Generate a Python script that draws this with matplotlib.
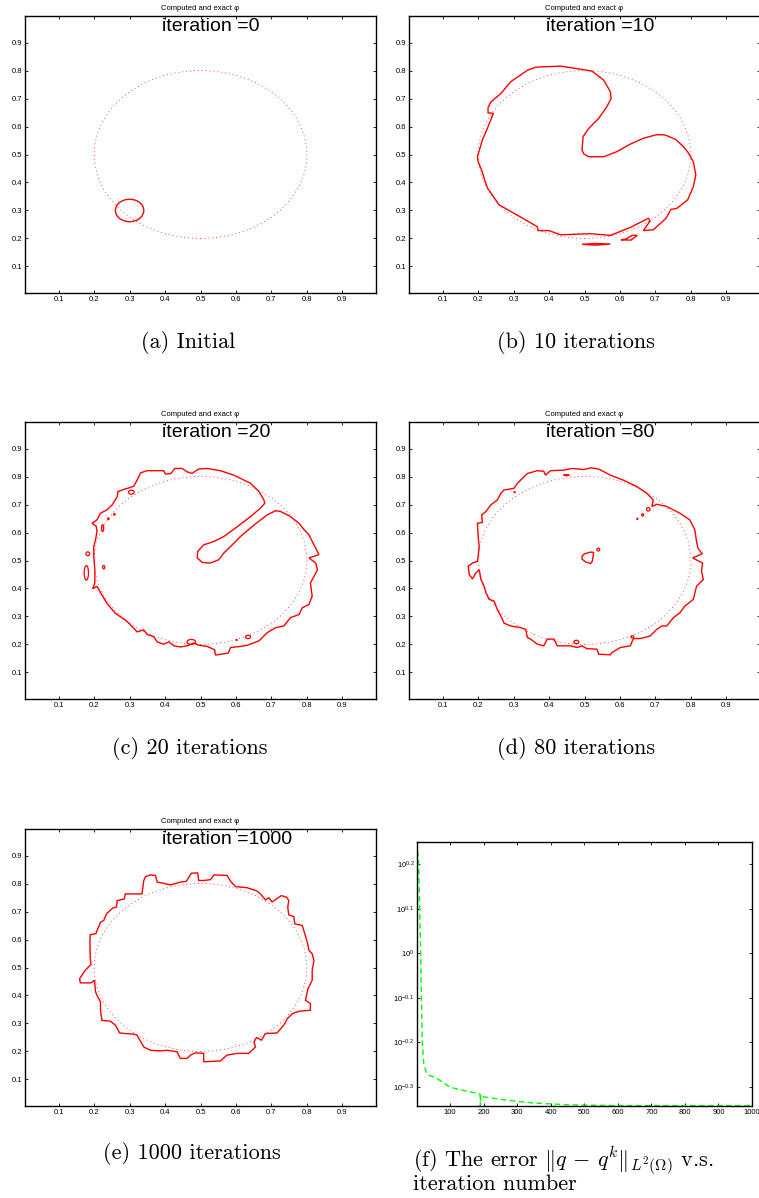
import numpy as np
import matplotlib
matplotlib.use('Agg')
import matplotlib.pyplot as plt
from matplotlib.patches import Circle, Ellipse, Polygon
from matplotlib.ticker import FixedLocator, FixedFormatter, NullLocator

plt.rcParams['font.family'] = ['Liberation Sans', 'DejaVu Sans']
plt.rcParams['mathtext.fontset'] = 'custom'
plt.rcParams['mathtext.rm'] = 'Liberation Sans'
plt.rcParams['mathtext.it'] = 'Liberation Sans:italic'
plt.rcParams['mathtext.bf'] = 'Liberation Sans:bold'

# ---------------- data ----------------
panel_iterations = [0, 10, 20, 80, 1000]
panel_captions = ["(a) Initial", "(b) 10 iterations", "(c) 20 iterations",
                  "(d) 80 iterations", "(e) 1000 iterations"]
axis_ticks = [0.1, 0.2, 0.3, 0.4, 0.5, 0.6, 0.7, 0.8, 0.9]
axis_tick_labels = ["0.1", "0.2", "0.3", "0.4", "0.5", "0.6", "0.7", "0.8", "0.9"]

exact_center = (0.5, 0.5)
exact_radius = 0.3
initial_center = (0.3, 0.3)
initial_radius = 0.04

b_outer = [(0.228, 0.668), (0.236, 0.688), (0.264, 0.718), (0.292, 0.760), (0.339, 0.801),
           (0.362, 0.812), (0.432, 0.816), (0.488, 0.805), (0.521, 0.798), (0.554, 0.766),
           (0.573, 0.724), (0.575, 0.700), (0.563, 0.671), (0.540, 0.629), (0.512, 0.593),
           (0.496, 0.564), (0.493, 0.516), (0.498, 0.502), (0.512, 0.492), (0.554, 0.492),
           (0.591, 0.510), (0.629, 0.537), (0.666, 0.558), (0.704, 0.571), (0.727, 0.570),
           (0.757, 0.554), (0.779, 0.528), (0.793, 0.506), (0.807, 0.474), (0.814, 0.427),
           (0.807, 0.385), (0.791, 0.338), (0.760, 0.307), (0.744, 0.304), (0.730, 0.272),
           (0.694, 0.231), (0.666, 0.228), (0.685, 0.262), (0.680, 0.272), (0.629, 0.239),
           (0.573, 0.211), (0.517, 0.217), (0.432, 0.213), (0.400, 0.228), (0.369, 0.228),
           (0.367, 0.242), (0.301, 0.290), (0.259, 0.320), (0.226, 0.381), (0.217, 0.415),
           (0.210, 0.444), (0.200, 0.474), (0.198, 0.492), (0.212, 0.552), (0.226, 0.593),
           (0.243, 0.647), (0.228, 0.649)]
b_lens = [(0.493, 0.179), (0.530, 0.182), (0.573, 0.180), (0.530, 0.176)]
b_quad = [(0.603, 0.195), (0.631, 0.194), (0.649, 0.211), (0.634, 0.211), (0.617, 0.198)]

c_outer = [(0.321, 0.787), (0.331, 0.813), (0.349, 0.821), (0.396, 0.821), (0.401, 0.809),
           (0.417, 0.811), (0.427, 0.829), (0.448, 0.829), (0.462, 0.817), (0.476, 0.811),
           (0.495, 0.827), (0.519, 0.829), (0.556, 0.821), (0.594, 0.805), (0.641, 0.776),
           (0.665, 0.746), (0.679, 0.716), (0.681, 0.704), (0.669, 0.687), (0.641, 0.657),
           (0.604, 0.621), (0.566, 0.586), (0.538, 0.568), (0.509, 0.556), (0.492, 0.532),
           (0.491, 0.509), (0.505, 0.493), (0.528, 0.491), (0.552, 0.503), (0.566, 0.527),
           (0.580, 0.544), (0.613, 0.586), (0.651, 0.627), (0.688, 0.663), (0.712, 0.678),
           (0.726, 0.675), (0.754, 0.657), (0.778, 0.633), (0.792, 0.610), (0.806, 0.592),
           (0.815, 0.568), (0.825, 0.544), (0.834, 0.521), (0.806, 0.509), (0.825, 0.491),
           (0.830, 0.467), (0.820, 0.443), (0.810, 0.420), (0.815, 0.373), (0.806, 0.343),
           (0.787, 0.331), (0.778, 0.307), (0.754, 0.296), (0.735, 0.266), (0.712, 0.260),
           (0.688, 0.242), (0.665, 0.213), (0.632, 0.197), (0.613, 0.193), (0.585, 0.189),
           (0.578, 0.169), (0.542, 0.162), (0.540, 0.181), (0.519, 0.193), (0.495, 0.197),
           (0.481, 0.205), (0.462, 0.195), (0.443, 0.191), (0.425, 0.195), (0.411, 0.209),
           (0.396, 0.201), (0.378, 0.209), (0.368, 0.228), (0.349, 0.236), (0.340, 0.252),
           (0.321, 0.245), (0.316, 0.252), (0.298, 0.276), (0.288, 0.287), (0.260, 0.311),
           (0.236, 0.347), (0.218, 0.385), (0.208, 0.408), (0.196, 0.399), (0.202, 0.420),
           (0.202, 0.467), (0.199, 0.515), (0.199, 0.550), (0.204, 0.574), (0.208, 0.604),
           (0.206, 0.622), (0.194, 0.633), (0.208, 0.645), (0.218, 0.669), (0.236, 0.681),
           (0.251, 0.699), (0.265, 0.728), (0.267, 0.746), (0.283, 0.754), (0.302, 0.761),
           (0.312, 0.766)]
# small islands: (center x, center y, width, height)
c_islands = [(0.178, 0.456, 0.012, 0.052), (0.182, 0.524, 0.010, 0.014),
             (0.224, 0.616, 0.006, 0.024), (0.227, 0.476, 0.006, 0.012),
             (0.240, 0.649, 0.004, 0.006), (0.257, 0.665, 0.004, 0.006),
             (0.305, 0.744, 0.016, 0.014), (0.634, 0.227, 0.014, 0.012),
             (0.474, 0.209, 0.024, 0.018), (0.602, 0.216, 0.003, 0.004)]

d_outer = [(0.329, 0.799), (0.339, 0.811), (0.367, 0.821), (0.385, 0.819), (0.390, 0.805),
           (0.404, 0.821), (0.442, 0.823), (0.465, 0.829), (0.498, 0.825), (0.517, 0.831),
           (0.540, 0.827), (0.573, 0.805), (0.610, 0.787), (0.648, 0.764), (0.676, 0.740),
           (0.694, 0.716), (0.690, 0.693), (0.704, 0.701), (0.732, 0.693), (0.769, 0.669),
           (0.797, 0.645), (0.811, 0.610), (0.816, 0.568), (0.820, 0.544), (0.832, 0.524),
           (0.805, 0.509), (0.833, 0.491), (0.830, 0.462), (0.835, 0.432), (0.816, 0.408),
           (0.807, 0.361), (0.783, 0.337), (0.769, 0.313), (0.751, 0.296), (0.732, 0.266),
           (0.718, 0.266), (0.704, 0.254), (0.685, 0.230), (0.657, 0.221), (0.638, 0.221),
           (0.629, 0.195), (0.601, 0.189), (0.577, 0.171), (0.573, 0.163), (0.540, 0.165),
           (0.535, 0.183), (0.507, 0.185), (0.493, 0.195), (0.479, 0.189), (0.460, 0.195),
           (0.442, 0.195), (0.423, 0.195), (0.414, 0.219), (0.395, 0.219), (0.385, 0.195),
           (0.367, 0.201), (0.348, 0.219), (0.339, 0.225), (0.334, 0.254), (0.320, 0.260),
           (0.292, 0.266), (0.273, 0.276), (0.264, 0.302), (0.254, 0.325), (0.245, 0.355),
           (0.231, 0.361), (0.222, 0.385), (0.217, 0.408), (0.208, 0.432), (0.203, 0.467),
           (0.194, 0.456), (0.184, 0.434), (0.175, 0.450), (0.172, 0.479), (0.184, 0.491),
           (0.198, 0.497), (0.200, 0.515), (0.203, 0.550), (0.200, 0.586), (0.198, 0.633),
           (0.212, 0.636), (0.210, 0.663), (0.222, 0.675), (0.236, 0.699), (0.254, 0.716),
           (0.264, 0.740), (0.273, 0.752), (0.301, 0.758), (0.311, 0.776)]
d_blob = [(0.493, 0.515), (0.500, 0.524), (0.517, 0.530), (0.526, 0.529), (0.522, 0.497),
          (0.517, 0.489), (0.503, 0.495), (0.493, 0.505)]
d_islands = [(0.539, 0.539, 0.008, 0.010), (0.680, 0.683, 0.010, 0.012),
             (0.664, 0.663, 0.006, 0.008), (0.649, 0.649, 0.003, 0.004),
             (0.477, 0.209, 0.014, 0.012), (0.635, 0.227, 0.008, 0.008),
             (0.449, 0.805, 0.016, 0.003), (0.303, 0.744, 0.003, 0.004)]

e_outer = [(0.340, 0.811), (0.345, 0.825), (0.359, 0.831), (0.373, 0.829), (0.378, 0.805),
           (0.396, 0.801), (0.415, 0.795), (0.443, 0.805), (0.460, 0.808), (0.474, 0.837),
           (0.492, 0.838), (0.495, 0.811), (0.509, 0.811), (0.528, 0.814), (0.538, 0.831),
           (0.575, 0.829), (0.585, 0.808), (0.599, 0.789), (0.632, 0.785), (0.660, 0.773),
           (0.669, 0.763), (0.683, 0.742), (0.693, 0.749), (0.702, 0.734), (0.714, 0.745),
           (0.728, 0.757), (0.743, 0.751), (0.749, 0.739), (0.746, 0.716), (0.749, 0.688),
           (0.763, 0.682), (0.766, 0.656), (0.787, 0.650), (0.794, 0.621), (0.801, 0.591),
           (0.806, 0.561), (0.815, 0.549), (0.820, 0.525), (0.815, 0.490), (0.815, 0.454),
           (0.803, 0.424), (0.796, 0.383), (0.810, 0.371), (0.810, 0.347), (0.778, 0.344),
           (0.759, 0.335), (0.745, 0.317), (0.735, 0.294), (0.716, 0.266), (0.683, 0.264),
           (0.672, 0.240), (0.658, 0.250), (0.651, 0.234), (0.655, 0.216), (0.636, 0.193),
           (0.603, 0.193), (0.575, 0.187), (0.556, 0.166), (0.509, 0.163), (0.509, 0.193),
           (0.486, 0.195), (0.472, 0.187), (0.462, 0.175), (0.443, 0.175), (0.434, 0.199),
           (0.406, 0.204), (0.387, 0.202), (0.359, 0.204), (0.340, 0.216), (0.321, 0.258),
           (0.312, 0.262), (0.288, 0.264), (0.272, 0.266), (0.260, 0.294), (0.246, 0.308),
           (0.222, 0.311), (0.218, 0.347), (0.218, 0.377), (0.208, 0.401), (0.204, 0.413),
           (0.201, 0.454), (0.191, 0.445), (0.161, 0.445), (0.159, 0.460), (0.175, 0.490),
           (0.191, 0.511), (0.189, 0.537), (0.188, 0.597), (0.189, 0.617), (0.205, 0.621),
           (0.210, 0.638), (0.218, 0.662), (0.227, 0.668), (0.235, 0.692), (0.253, 0.713),
           (0.263, 0.716), (0.265, 0.739), (0.285, 0.745), (0.288, 0.763), (0.312, 0.763),
           (0.335, 0.763)]

# error history (panel f)
err_iteration = [1, 3, 6, 9, 12, 14, 17, 21, 29, 40, 60, 100, 150, 189, 190, 191, 200,
                 250, 300, 350, 400, 450, 500, 600, 700, 800, 900, 1000]
err_value = [1.778, 1.698, 1.585, 1.250, 1.000, 0.800, 0.628, 0.566, 0.538, 0.531, 0.524,
             0.500, 0.490, 0.483, 0.454, 0.481, 0.476, 0.470, 0.465, 0.461, 0.459, 0.457,
             0.456, 0.455, 0.455, 0.455, 0.455, 0.455]
err_xticks = [100, 200, 300, 400, 500, 600, 700, 800, 900, 1000]
err_ytick_exp = [-0.3, -0.2, -0.1, 0.0, 0.1, 0.2]
err_ytick_labels = [r'$10^{-0.3}$', r'$10^{-0.2}$', r'$10^{-0.1}$', r'$10^{0}$',
                    r'$10^{0.1}$', r'$10^{0.2}$']
err_ylim = (0.454, 1.778)

# ---------------- layout ----------------
W, H = 759, 1198
fig = plt.figure(figsize=(W / 100, H / 100), dpi=100)


def add_ax(l, t, r, b):
    return fig.add_axes([l / W, 1 - b / H, (r - l) / W, (b - t) / H])


boxes = [(25, 16, 376, 293), (409, 16, 760, 293), (25, 422, 376, 699),
         (409, 422, 760, 699), (25, 829, 376, 1106)]
cap_pos = [(188, 348), (576, 348), (190, 754), (576, 754), (192, 1159)]

RED = '#ff0000'


def style_ax(ax):
    ax.tick_params(direction='in', top=True, right=True, length=2.5, width=0.6,
                   labelsize=5.5, pad=2, colors='black')
    for s in ax.spines.values():
        s.set_linewidth(1.0)


panel_curves = [[], [b_outer, b_lens, b_quad], [c_outer], [d_outer, d_blob], [e_outer]]
panel_islands = [[], [], c_islands, d_islands, []]

for i, box in enumerate(boxes):
    ax = add_ax(*box)
    ax.set_xlim(0.005, 0.995)
    ax.set_ylim(0.005, 0.995)
    ax.set_xticks(axis_ticks)
    ax.set_xticklabels(axis_tick_labels)
    ax.set_yticks(axis_ticks)
    ax.set_yticklabels(axis_tick_labels)
    style_ax(ax)
    ax.set_title('Computed and exact \u03c6', fontsize=5.5, pad=4)
    ax.text(0.39, 0.94, 'iteration =%d' % panel_iterations[i], fontsize=14,
            ha='left', va='baseline')
    ax.add_patch(Circle(exact_center, exact_radius, fill=False, ec=RED, lw=0.6,
                        ls=(0, (1.2, 3.5)), alpha=0.8))
    if i == 0:
        ax.add_patch(Circle(initial_center, initial_radius, fill=False, ec=RED, lw=1.0))
    for crv in panel_curves[i]:
        ax.add_patch(Polygon(crv, closed=True, fill=False, ec=RED, lw=1.0))
    for (cx, cy, w, h) in panel_islands[i]:
        ax.add_patch(Ellipse((cx, cy), w, h, fill=False, ec=RED, lw=0.9))
    fig.text(cap_pos[i][0] / W, 1 - cap_pos[i][1] / H, panel_captions[i],
             fontsize=16, ha='center', va='baseline', family='cmr10')

# panel f
axf = add_ax(417, 842, 752, 1106)
axf.plot(err_iteration, err_value, color='#00ff00', lw=1.0, ls=(0, (4, 2.5)))
axf.set_yscale('log')
axf.set_xlim(1, 1000)
axf.set_ylim(*err_ylim)
axf.xaxis.set_major_locator(FixedLocator(err_xticks))
axf.set_xticklabels([str(v) for v in err_xticks])
axf.yaxis.set_major_locator(FixedLocator([10 ** e for e in err_ytick_exp]))
axf.yaxis.set_major_formatter(FixedFormatter(err_ytick_labels))
axf.yaxis.set_minor_locator(NullLocator())
style_ax(axf)

fig.text(413 / W, 1 - 1166 / H,
         r'(f) The error $\Vert q\,-\,q^k\Vert_{L^2(\Omega)}$ v.s.',
         fontsize=16, ha='left', va='baseline', family='cmr10', math_fontfamily='cm')
fig.text(413 / W, 1 - 1190 / H, 'iteration number',
         fontsize=16, ha='left', va='baseline', family='cmr10')

fig.savefig('out.png', dpi=100)
